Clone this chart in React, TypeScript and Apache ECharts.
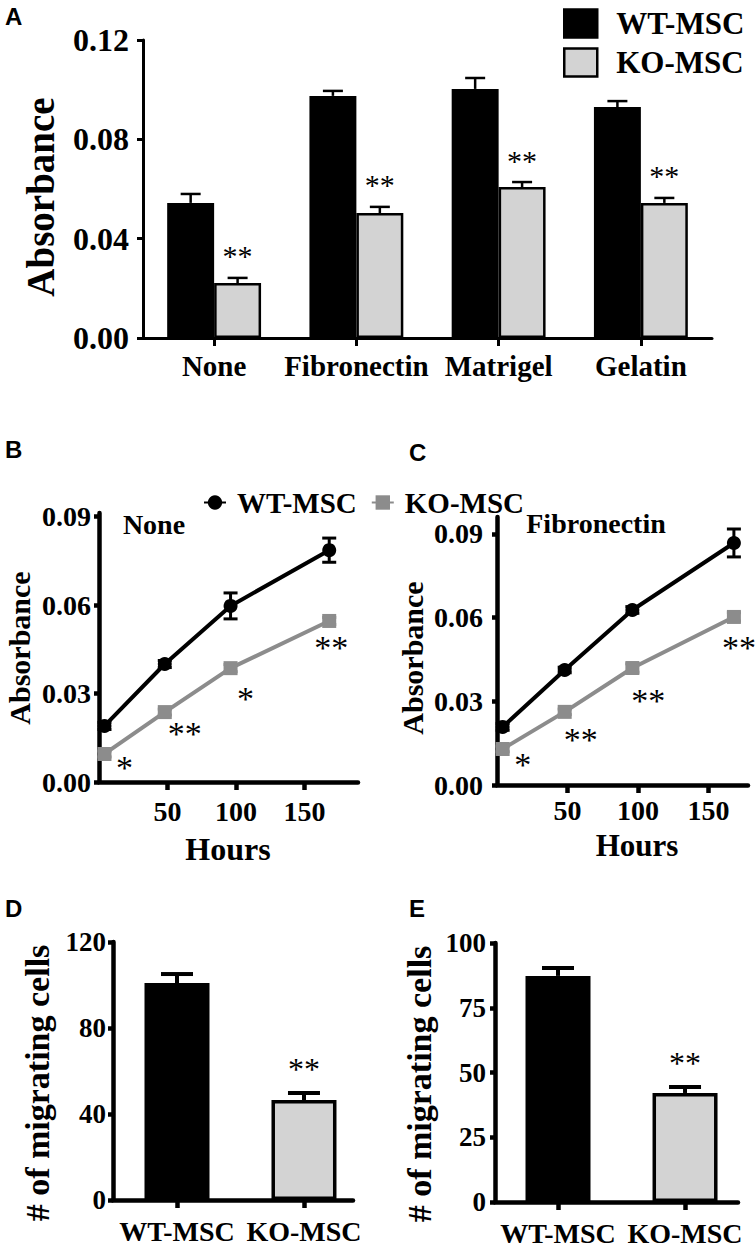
import React, { useEffect, useRef } from "react";
import * as echarts from "echarts";

const SERIF = "'Liberation Serif', 'Times New Roman', serif";
const SANS = "'Liberation Sans', Arial, sans-serif";

// ---------- Panel A data ----------
const substrates = ["None", "Fibronectin", "Matrigel", "Gelatin"];
const wtAbs = [0.0544, 0.0975, 0.1003, 0.093];
const wtAbsErr = [0.0036, 0.002, 0.0044, 0.0024];
const koAbs = [0.0221, 0.0503, 0.0608, 0.0544];
const koAbsErr = [0.0021, 0.0025, 0.002, 0.002];
const koAbsSig = ["**", "**", "**", "**"];

// ---------- Panels B / C data ----------
const hours = [4, 48, 96, 168];
const hourTicks = [50, 100, 150];
const absTicksBC = [0, 0.03, 0.06, 0.09];
const wtNone = [0.019, 0.04, 0.0597, 0.0786];
const wtNoneErr = [0.0012, 0.0012, 0.0044, 0.0041];
const koNone = [0.0095, 0.0237, 0.0386, 0.0546];
const koNoneErr = [0.001, 0.001, 0.0012, 0.0012];
const koNoneSig = ["*", "**", "*", "**"];
const wtFib = [0.0208, 0.0412, 0.0627, 0.0867];
const wtFibErr = [0.0012, 0.001, 0.0012, 0.005];
const koFib = [0.0129, 0.0262, 0.0419, 0.0602];
const koFibErr = [0.001, 0.001, 0.0015, 0.0015];
const koFibSig = ["*", "**", "**", "**"];

// ---------- Panels D / E data ----------
const groups = ["WT-MSC", "KO-MSC"];
const groupPos = [1, 2];
const migD = [100.9, 46.5];
const migDErr = [4.2, 3.3];
const migE = [87.3, 42.1];
const migEErr = [3.0, 2.3];
const sigDE = ["", "**"];

// ---------- styles / layout ----------
const BLACK = "#000000";
const LIGHT = "#d3d3d3";
const GREY = "#8c8c8c";
const barColors = [BLACK, LIGHT];
const BAR_FRAC = 0.33; // fraction of band per bar in panel A
// pixel offsets of significance marks from the KO points (B, C)
const starOffB = [[20, 9], [20, 16], [15, 25], [2, 22]];
const starOffC = [[20, 11], [16, 23], [16, 27], [5, 26]];

const txt = (text: string, x: number, y: number, size: number, opts: any = {}) => ({
  type: "text",
  x,
  y,
  rotation: opts.rotation || 0,
  z: 50,
  style: {
    text,
    font: `${opts.weight || "bold"} ${size}px ${opts.family || SERIF}`,
    fill: BLACK,
    align: "center",
    verticalAlign: "middle",
    textAlign: "center",
    textVerticalAlign: "middle",
  },
});

const starText = (text: string, x: number, y: number, size: number) => ({
  type: "text",
  x,
  y,
  style: {
    text,
    font: `normal ${size}px ${SERIF}`,
    fill: BLACK,
    align: "center",
    verticalAlign: "middle",
    textAlign: "center",
    textVerticalAlign: "middle",
  },
});

const lineEl = (x1: number, y1: number, x2: number, y2: number, w: number, c = BLACK) => ({
  type: "line",
  shape: { x1, y1, x2, y2 },
  style: { stroke: c, lineWidth: w },
});

// error bars above grouped bars (panel A)
const barErrA = (sign: number, errs: number[], sigs: string[] | null) => (params: any, api: any) => {
  const i = params.dataIndex;
  const v = api.value(1);
  const base = api.coord([api.value(0), v]);
  const top = api.coord([api.value(0), v + errs[i]]);
  const bw = api.size([1, 0])[0];
  const cx = base[0] + (sign * bw * BAR_FRAC) / 2;
  const children: any[] = [
    lineEl(cx, base[1], cx, top[1], 2.5),
    lineEl(cx - 10, top[1], cx + 10, top[1], 2.5),
  ];
  if (sigs && sigs[i]) children.push(starText(sigs[i], cx, top[1] - 22, 30));
  return { type: "group", children };
};

// error bars above single bars (panels D, E)
const barErrDE = (errs: number[], sigs: string[]) => (params: any, api: any) => {
  const i = params.dataIndex;
  const v = api.value(1);
  const base = api.coord([api.value(0), v]);
  const top = api.coord([api.value(0), v + errs[i]]);
  const cx = base[0];
  const children: any[] = [
    lineEl(cx, base[1], cx, top[1], 4),
    lineEl(cx - 16, top[1], cx + 16, top[1], 4),
  ];
  if (sigs[i]) children.push(starText(sigs[i], cx, top[1] - 24, 32));
  return { type: "group", children };
};

// symmetric error bars for points (panels B, C)
const pointErr = (errs: number[], color: string, sigs: string[] | null, offs: number[][] | null) =>
  (params: any, api: any) => {
    const i = params.dataIndex;
    const x = api.value(0);
    const v = api.value(1);
    const lo = api.coord([x, v - errs[i]]);
    const hi = api.coord([x, v + errs[i]]);
    const c = api.coord([x, v]);
    const children: any[] = [
      lineEl(c[0], lo[1], c[0], hi[1], 3, color),
      lineEl(c[0] - 7, lo[1], c[0] + 7, lo[1], 3, color),
      lineEl(c[0] - 7, hi[1], c[0] + 7, hi[1], 3, color),
    ];
    if (sigs && offs && sigs[i]) {
      children.push(starText(sigs[i], c[0] + offs[i][0], c[1] + offs[i][1] + 5, 34));
    }
    return { type: "group", children };
  };

const axisBase = (lw: number, tickLen: number) => ({
  axisLine: { show: true, onZero: false, lineStyle: { color: BLACK, width: lw } },
  axisTick: { show: true, length: tickLen, lineStyle: { color: BLACK, width: lw } },
  splitLine: { show: false },
});

const labelStyle = (size: number, margin: number) => ({
  color: BLACK,
  fontFamily: SERIF,
  fontWeight: "bold",
  fontSize: size,
  margin,
});

function buildOption(): any {
  const pair = (xs: number[], ys: number[]) => xs.map((x, i) => [x, ys[i]]);
  const catData = (ys: number[]) => ys.map((y, i) => [i, y]);

  return {
    animation: false,
    backgroundColor: "#ffffff",
    title: [
      { text: "A", left: 5, top: 4 },
      { text: "B", left: 5, top: 437 },
      { text: "C", left: 409, top: 440 },
      { text: "D", left: 5, top: 896 },
      { text: "E", left: 409, top: 896 },
    ].map((t) => ({
      ...t,
      padding: 0,
      textStyle: { fontFamily: SANS, fontWeight: "bold", fontSize: 24, color: BLACK },
    })),
    legend: [
      {
        left: 558,
        top: 3,
        orient: "vertical",
        icon: "rect",
        itemWidth: 33,
        itemHeight: 28,
        itemGap: 8,
        selectedMode: false,
        data: [
          { name: "WT-MSC", itemStyle: { color: BLACK, borderColor: BLACK, borderWidth: 2.5 } },
          { name: "KO-MSC", itemStyle: { color: LIGHT, borderColor: BLACK, borderWidth: 2.5 } },
        ],
        textStyle: {
          fontFamily: SERIF,
          fontWeight: "bold",
          fontSize: 31,
          color: BLACK,
          lineHeight: 28,
          padding: [0, 0, 0, 14],
        },
      },
      {
        left: 198,
        top: 483,
        orient: "horizontal",
        itemWidth: 22,
        itemHeight: 18,
        itemGap: 14,
        selectedMode: false,
        data: ["WT-MSC (None)", "KO-MSC (None)"],
        formatter: (n: string) => n.replace(" (None)", ""),
        textStyle: {
          fontFamily: SERIF,
          fontWeight: "bold",
          fontSize: 29,
          color: BLACK,
          lineHeight: 28,
          padding: [0, 0, 0, 6],
        },
      },
    ],
    grid: [
      { left: 143, top: 40, width: 569, height: 298 },
      { left: 99, top: 513, width: 259, height: 269 },
      { left: 497, top: 517, width: 251, height: 268 },
      { left: 113, top: 942, width: 240, height: 258 },
      { left: 495, top: 943, width: 243, height: 259 },
    ],
    xAxis: [
      {
        gridIndex: 0,
        type: "category",
        data: substrates,
        ...axisBase(3, 8),
        axisTick: { show: true, alignWithLabel: true, length: 8, lineStyle: { color: BLACK, width: 3 } },
        axisLabel: { ...labelStyle(29, 13), interval: 0 },
      },
      {
        gridIndex: 1,
        type: "value",
        min: 0,
        max: 189,
        ...axisBase(4.5, 8),
        axisTick: { show: true, length: 8, customValues: hourTicks, lineStyle: { color: BLACK, width: 4.5 } },
        axisLabel: { ...labelStyle(28, 15), customValues: hourTicks },
      },
      {
        gridIndex: 2,
        type: "value",
        min: 0,
        max: 178,
        ...axisBase(4.5, 8),
        axisTick: { show: true, length: 8, customValues: hourTicks, lineStyle: { color: BLACK, width: 4.5 } },
        axisLabel: { ...labelStyle(28, 11), customValues: hourTicks },
      },
      {
        gridIndex: 3,
        type: "value",
        min: 0.496,
        max: 2.386,
        ...axisBase(4.5, 8),
        axisTick: { show: true, length: 8, customValues: groupPos, lineStyle: { color: BLACK, width: 4.5 } },
        axisLabel: {
          ...labelStyle(28, 17),
          customValues: groupPos,
          formatter: (v: number) => groups[Math.round(v) - 1] || "",
        },
      },
      {
        gridIndex: 4,
        type: "value",
        min: 0.504,
        max: 2.417,
        ...axisBase(4.5, 8),
        axisTick: { show: true, length: 8, customValues: groupPos, lineStyle: { color: BLACK, width: 4.5 } },
        axisLabel: {
          ...labelStyle(28, 17),
          customValues: groupPos,
          formatter: (v: number) => groups[Math.round(v) - 1] || "",
        },
      },
    ],
    yAxis: [
      {
        gridIndex: 0,
        type: "value",
        min: 0,
        max: 0.12,
        interval: 0.04,
        ...axisBase(3, 6),
        axisLabel: { ...labelStyle(32, 14), formatter: (v: number) => v.toFixed(2) },
      },
      {
        gridIndex: 1,
        type: "value",
        min: 0,
        max: 0.0912,
        ...axisBase(4.5, 5),
        axisTick: { show: true, length: 5, customValues: absTicksBC, lineStyle: { color: BLACK, width: 4.5 } },
        axisLabel: { ...labelStyle(28, 8), customValues: absTicksBC, formatter: (v: number) => v.toFixed(2) },
      },
      {
        gridIndex: 2,
        type: "value",
        min: 0,
        max: 0.096,
        ...axisBase(4.5, 5),
        axisTick: { show: true, length: 5, customValues: absTicksBC, lineStyle: { color: BLACK, width: 4.5 } },
        axisLabel: { ...labelStyle(28, 14), customValues: absTicksBC, formatter: (v: number) => v.toFixed(2) },
      },
      {
        gridIndex: 3,
        type: "value",
        min: 0,
        max: 120,
        interval: 40,
        ...axisBase(4.5, 5),
        axisLabel: labelStyle(27, 7),
      },
      {
        gridIndex: 4,
        type: "value",
        min: 0,
        max: 100,
        interval: 25,
        ...axisBase(4.5, 5),
        axisLabel: labelStyle(27, 9),
      },
    ],
    series: [
      // ----- A -----
      {
        name: "WT-MSC",
        type: "bar",
        xAxisIndex: 0,
        yAxisIndex: 0,
        data: wtAbs,
        barGap: "0%",
        barCategoryGap: "34%",
        itemStyle: { color: BLACK, borderColor: BLACK, borderWidth: 2.5 },
      },
      {
        name: "KO-MSC",
        type: "bar",
        xAxisIndex: 0,
        yAxisIndex: 0,
        data: koAbs,
        barGap: "0%",
        barCategoryGap: "34%",
        itemStyle: { color: LIGHT, borderColor: BLACK, borderWidth: 2.5 },
      },
      {
        type: "custom",
        xAxisIndex: 0,
        yAxisIndex: 0,
        z: 5,
        data: catData(wtAbs),
        renderItem: barErrA(-1, wtAbsErr, null),
      },
      {
        type: "custom",
        xAxisIndex: 0,
        yAxisIndex: 0,
        z: 5,
        data: catData(koAbs),
        renderItem: barErrA(1, koAbsErr, koAbsSig),
      },
      // ----- B -----
      {
        name: "KO-MSC (None)",
        type: "line",
        xAxisIndex: 1,
        yAxisIndex: 1,
        data: pair(hours, koNone),
        symbol: "rect",
        symbolSize: 14,
        lineStyle: { color: GREY, width: 4 },
        itemStyle: { color: GREY },
      },
      {
        name: "WT-MSC (None)",
        type: "line",
        xAxisIndex: 1,
        yAxisIndex: 1,
        data: pair(hours, wtNone),
        symbol: "circle",
        symbolSize: 14,
        lineStyle: { color: BLACK, width: 4 },
        itemStyle: { color: BLACK },
      },
      {
        type: "custom",
        xAxisIndex: 1,
        yAxisIndex: 1,
        z: 5,
        data: pair(hours, wtNone),
        renderItem: pointErr(wtNoneErr, BLACK, null, null),
      },
      {
        type: "custom",
        xAxisIndex: 1,
        yAxisIndex: 1,
        z: 1,
        data: pair(hours, koNone),
        renderItem: pointErr(koNoneErr, GREY, koNoneSig, starOffB),
      },
      // ----- C -----
      {
        name: "KO-MSC (Fibronectin)",
        type: "line",
        xAxisIndex: 2,
        yAxisIndex: 2,
        data: pair(hours, koFib),
        symbol: "rect",
        symbolSize: 14,
        lineStyle: { color: GREY, width: 4 },
        itemStyle: { color: GREY },
      },
      {
        name: "WT-MSC (Fibronectin)",
        type: "line",
        xAxisIndex: 2,
        yAxisIndex: 2,
        data: pair(hours, wtFib),
        symbol: "circle",
        symbolSize: 14,
        lineStyle: { color: BLACK, width: 4 },
        itemStyle: { color: BLACK },
      },
      {
        type: "custom",
        xAxisIndex: 2,
        yAxisIndex: 2,
        z: 5,
        data: pair(hours, wtFib),
        renderItem: pointErr(wtFibErr, BLACK, null, null),
      },
      {
        type: "custom",
        xAxisIndex: 2,
        yAxisIndex: 2,
        z: 1,
        data: pair(hours, koFib),
        renderItem: pointErr(koFibErr, GREY, koFibSig, starOffC),
      },
      // ----- D -----
      {
        name: "Migration D",
        type: "bar",
        xAxisIndex: 3,
        yAxisIndex: 3,
        barWidth: 65,
        data: migD.map((v, i) => ({
          value: [groupPos[i], v],
          itemStyle: { color: barColors[i], borderColor: BLACK, borderWidth: 3.5 },
        })),
      },
      {
        type: "custom",
        xAxisIndex: 3,
        yAxisIndex: 3,
        z: 5,
        data: pair(groupPos, migD),
        renderItem: barErrDE(migDErr, sigDE),
      },
      // ----- E -----
      {
        name: "Migration E",
        type: "bar",
        xAxisIndex: 4,
        yAxisIndex: 4,
        barWidth: 65,
        data: migE.map((v, i) => ({
          value: [groupPos[i], v],
          itemStyle: { color: barColors[i], borderColor: BLACK, borderWidth: 3.5 },
        })),
      },
      {
        type: "custom",
        xAxisIndex: 4,
        yAxisIndex: 4,
        z: 5,
        data: pair(groupPos, migE),
        renderItem: barErrDE(migEErr, sigDE),
      },
    ],
    graphic: [
      txt("Absorbance", 40, 197, 39, { rotation: Math.PI / 2 }),
      txt("Absorbance", 19, 648, 30, { rotation: Math.PI / 2 }),
      txt("Absorbance", 412, 658, 30, { rotation: Math.PI / 2 }),
      txt("# of migrating cells", 37, 1083, 34, { rotation: Math.PI / 2 }),
      txt("# of migrating cells", 419, 1084, 34, { rotation: Math.PI / 2 }),
      txt("Hours", 228, 849, 32),
      txt("Hours", 637, 845, 31),
      txt("None", 154, 524, 28),
      txt("Fibronectin", 596, 523, 28),
    ],
  };
}

export default function App() {
  const ref = useRef<HTMLDivElement>(null);
  useEffect(() => {
    document.body.style.margin = "0";
    const chart = echarts.init(ref.current as HTMLDivElement, null, { renderer: "svg" });
    chart.setOption(buildOption());
    return () => chart.dispose();
  }, []);
  return <div ref={ref} style={{ width: 756, height: 1247, background: "#ffffff" }} />;
}
